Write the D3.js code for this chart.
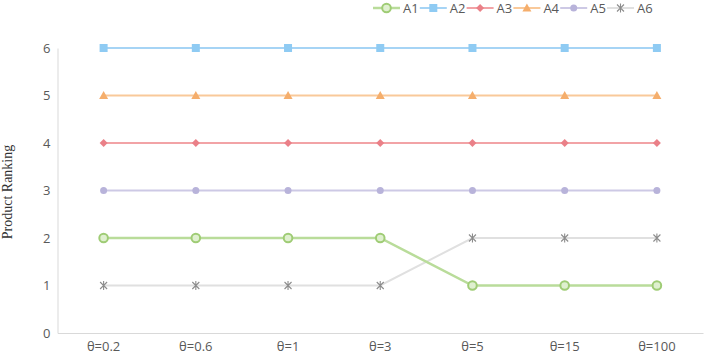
<!DOCTYPE html>
<html><head><meta charset="utf-8">
<script src="https://cdn.jsdelivr.net/npm/d3@7"></script>
<style>body{margin:0;background:#fff}svg{display:block}</style>
</head><body>
<svg id="c" width="704" height="355"></svg>
<script>
const categories = ["θ=0.2","θ=0.6","θ=1","θ=3","θ=5","θ=15","θ=100"];
const seriesNames = ["A1","A2","A3","A4","A5","A6"];
const A1 = [2,2,2,2,1,1,1];
const A2 = [6,6,6,6,6,6,6];
const A3 = [4,4,4,4,4,4,4];
const A4 = [5,5,5,5,5,5,5];
const A5 = [3,3,3,3,3,3,3];
const A6 = [1,1,1,1,2,2,2];
const yTicks = [0,1,2,3,4,5,6];

const seriesData = [A1,A2,A3,A4,A5,A6];
const styles = [
  {color:"#b9dc9a", width:2.5, marker:"circleO"},
  {color:"#a6d4f5", width:2, marker:"square"},
  {color:"#f2a3a6", width:2, marker:"diamond"},
  {color:"#f9c99a", width:2, marker:"triangle"},
  {color:"#cdc9e5", width:2, marker:"dot"},
  {color:"#e0e0e0", width:2, marker:"star"}
];

const svg = d3.select("#c");
const x = d3.scaleBand().domain(categories).range([57.5, 703]);
const y = d3.scaleLinear().domain([0,6]).range([333, 48]);
const font = "'Open Sans', 'Noto Sans', sans-serif";

// axes
const gy = svg.append("g").attr("transform","translate(57.5,0)")
  .call(d3.axisLeft(y).tickValues(yTicks).tickFormat(d3.format("d")).tickSize(0).tickPadding(7));
gy.select(".domain").attr("stroke","#d9d9d9");
gy.selectAll("text").attr("font-family",font).attr("font-size",13).attr("fill","#595959");

const gx = svg.append("g").attr("transform","translate(0,333)")
  .call(d3.axisBottom(x).tickSize(0).tickPadding(9));
gx.select(".domain").attr("stroke","#d9d9d9");
gx.selectAll("text").attr("font-family",font).attr("font-size",13).attr("fill","#595959");

svg.append("text").attr("transform","translate(12,192) rotate(-90)")
  .attr("text-anchor","middle").attr("font-family","'Liberation Serif','Times New Roman',serif")
  .attr("font-size",14).attr("fill","#333").text("Product Ranking");

function drawMarker(g, type, color, cx, cy){
  const s = g.append("g").attr("transform",`translate(${cx},${cy})`);
  if(type==="circleO") s.append("circle").attr("r",4.3).attr("fill","#dff0cf").attr("stroke","#9fcc75").attr("stroke-width",2);
  else if(type==="square") s.append("rect").attr("x",-4).attr("y",-4).attr("width",8).attr("height",8).attr("fill","#8fcbf3");
  else if(type==="diamond") s.append("path").attr("d","M0,-4L4,0L0,4L-4,0Z").attr("fill","#ea8088");
  else if(type==="triangle") s.append("path").attr("d","M0,-4.5L4.5,3.5L-4.5,3.5Z").attr("fill","#f5ae6c");
  else if(type==="dot") s.append("circle").attr("r",3.5).attr("fill","#b8b3da");
  else if(type==="star"){
    s.append("path").attr("d","M-3.5,-3.5L3.5,3.5M-3.5,3.5L3.5,-3.5M0,-4.5L0,4.5").attr("stroke","#8c8c8c").attr("stroke-width",1.1).attr("fill","none");
  }
}

const cx = c => x(c) + x.bandwidth()/2;
const line = d3.line().x((d,i)=>cx(categories[i])).y(d=>y(d));

// draw order: A6 bottom ... A1 on top
const order = [5,4,3,2,1,0];
order.forEach(k=>{
  const st = styles[k];
  svg.append("path").datum(seriesData[k]).attr("d",line)
    .attr("fill","none").attr("stroke",st.color).attr("stroke-width",st.width);
});
order.forEach(k=>{
  const st = styles[k];
  seriesData[k].forEach((v,i)=>drawMarker(svg, st.marker, st.color, cx(categories[i]), y(v)));
});

// legend
const legX = d3.scalePoint().domain(seriesNames).range([373, 607]);
seriesNames.forEach((n,k)=>{
  const st = styles[k];
  const lx = legX(n);
  svg.append("line").attr("x1",lx).attr("x2",lx+27).attr("y1",8).attr("y2",8)
    .attr("stroke",st.color).attr("stroke-width",st.width);
  drawMarker(svg, st.marker, st.color, lx+13.5, 8);
  svg.append("text").attr("x",lx+30).attr("y",12.5).attr("font-family",font)
    .attr("font-size",13).attr("fill","#595959").text(n);
});
</script>
</body></html>
